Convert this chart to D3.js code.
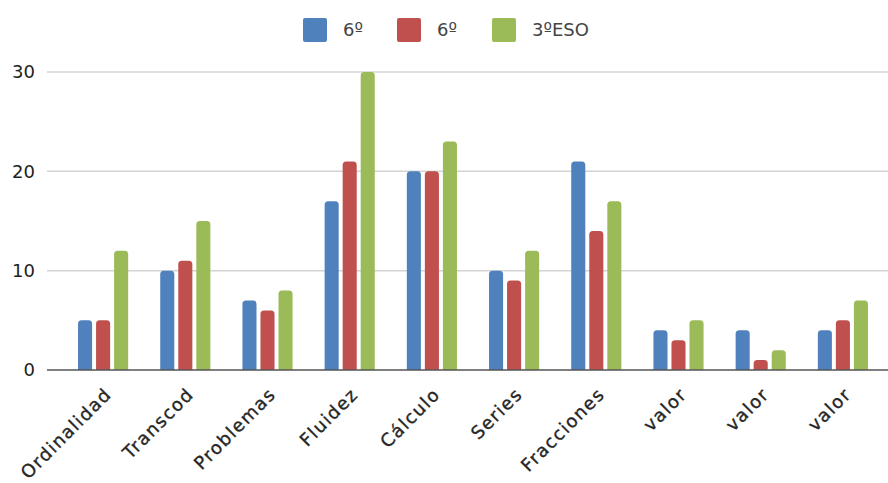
<!DOCTYPE html>
<html>
<head>
<meta charset="utf-8">
<script src="https://cdn.jsdelivr.net/npm/d3@7"></script>
<style>
  html, body { margin: 0; padding: 0; background: #fff; }
  svg { display: block; }
  text { font-family: "DejaVu Sans", Verdana, sans-serif; fill: #2e2e2e; }
</style>
</head>
<body>
<svg id="chart" width="888" height="483"></svg>
<script>
// Categories and series
const categories = ["Ordinalidad", "Transcod", "Problemas", "Fluidez", "Cálculo",
                    "Series", "Fracciones", "valor", "valor", "valor"];
const seriesNames = ["6º", "6º", "3ºESO"];
const seriesA = [5, 10, 7, 17, 20, 10, 21, 4, 4, 4];
const seriesB = [5, 11, 6, 21, 20, 9, 14, 3, 1, 5];
const seriesC = [12, 15, 8, 30, 23, 12, 17, 5, 2, 7];
const yTicks = [0, 10, 20, 30];
const colors = ["#4F81BD", "#C0504D", "#9BBB59"];

const seriesValues = [seriesA, seriesB, seriesC];
const rows = categories.map((c, i) => ({
  idx: i,
  cat: c,
  vals: seriesValues.map((s, k) => ({ k, v: s[i] }))
}));

const svg = d3.select("#chart");
const plotLeft = 47, plotRight = 888;

const x0 = d3.scaleBand()
  .domain(d3.range(categories.length))
  .range([62, 884])
  .paddingInner(0.39)
  .paddingOuter(0.195);

const x1 = d3.scaleBand()
  .domain(d3.range(seriesNames.length))
  .range([0, x0.bandwidth()])
  .paddingInner(0.22);

const y = d3.scaleLinear().domain([0, 30]).range([370, 72]);

// Horizontal gridlines
svg.append("g")
  .selectAll("line")
  .data(yTicks.filter(t => t > 0))
  .join("line")
  .attr("x1", plotLeft).attr("x2", plotRight)
  .attr("y1", d => y(d)).attr("y2", d => y(d))
  .attr("stroke", "#d4d4d4").attr("stroke-width", 1.5);

// Y tick labels
svg.append("g")
  .selectAll("text")
  .data(yTicks)
  .join("text")
  .attr("x", 35)
  .attr("y", d => y(d))
  .attr("dy", "0.36em")
  .attr("text-anchor", "end")
  .style("font-size", "18px")
  .style("fill", "#1e1e1e")
  .text(d => d);

// Bars with rounded tops
function barPath(x, w, yTop, yBase, r) {
  r = Math.min(r, w / 2, (yBase - yTop));
  return `M${x},${yBase}V${yTop + r}Q${x},${yTop} ${x + r},${yTop}` +
         `H${x + w - r}Q${x + w},${yTop} ${x + w},${yTop + r}V${yBase}Z`;
}

svg.append("g")
  .selectAll("g")
  .data(rows)
  .join("g")
  .attr("transform", d => `translate(${x0(d.idx)},0)`)
  .selectAll("path")
  .data(d => d.vals)
  .join("path")
  .attr("fill", d => colors[d.k])
  .attr("d", d => barPath(x1(d.k), x1.bandwidth(), y(d.v), y(0), 3.5));

// Baseline
svg.append("line")
  .attr("x1", plotLeft).attr("x2", plotRight)
  .attr("y1", y(0)).attr("y2", y(0))
  .attr("stroke", "#555").attr("stroke-width", 1.5);

// Rotated category labels
svg.append("g")
  .selectAll("text")
  .data(rows)
  .join("text")
  .attr("transform", d => `translate(${x0(d.idx) + x0.bandwidth() / 2 + 5},${y(0) + 21}) rotate(-45)`)
  .attr("text-anchor", "end")
  .attr("dy", "0.35em")
  .style("font-size", "18px")
  .style("letter-spacing", "1.4px")
  .style("stroke", "#262626")
  .style("stroke-width", "0.35px")
  .style("fill", "#262626")
  .text(d => d.cat);

// Legend
const legendX = [303, 397, 492];
const legend = svg.append("g")
  .selectAll("g")
  .data(seriesNames)
  .join("g")
  .attr("transform", (d, i) => `translate(${legendX[i]},18)`);
legend.append("rect")
  .attr("width", 24).attr("height", 24).attr("rx", 2)
  .attr("fill", (d, i) => colors[i]);
legend.append("text")
  .attr("x", 40).attr("y", 12).attr("dy", "0.36em")
  .style("font-size", "18px")
  .style("fill", "#444")
  .text(d => d);
</script>
</body>
</html>
